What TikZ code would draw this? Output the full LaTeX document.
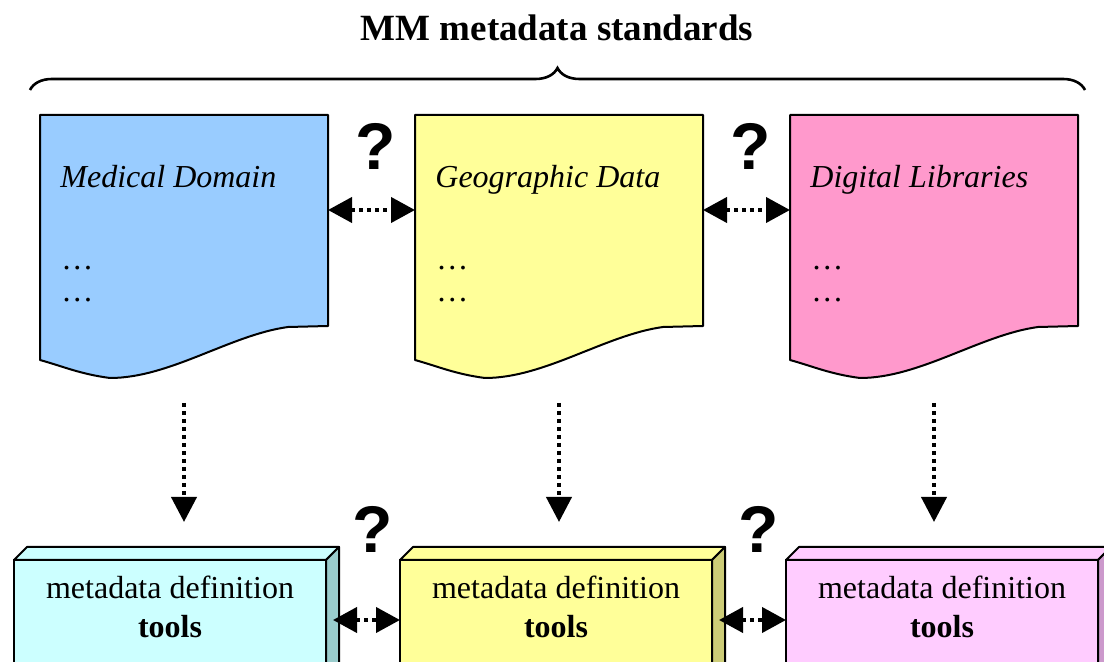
\documentclass[tikz,border=0pt]{standalone}
\usepackage{fontspec}
\setmainfont{Liberation Serif}
\newfontfamily\qfont{Liberation Sans}
\usepackage{tikz}
\usetikzlibrary{positioning, calc, arrows.meta, decorations.pathreplacing}

\definecolor{medblue}{HTML}{99CCFF}
\definecolor{geoyellow}{HTML}{FFFF99}
\definecolor{libpink}{HTML}{FF99CC}
\definecolor{toolcyan}{HTML}{CCFFFF}
\definecolor{cyanside}{HTML}{99CCCC}
\definecolor{yellowside}{HTML}{CCCC77}
\definecolor{toolpink}{HTML}{FFCCFF}
\definecolor{pinkside}{HTML}{CC99CC}

\tikzset{
  heading/.style={font=\bfseries\fontsize{18.5}{22}\selectfont, inner sep=0},
  bracket/.style={decorate, decoration={brace, amplitude=11pt}, line width=1.3pt},
  doc/.style={minimum width=144pt, minimum height=131.5pt, inner sep=0, outer sep=0},
  docline/.style={line width=1pt, line join=round},
  docname/.style={font=\fontsize{16}{19}\selectfont\itshape, anchor=base west, inner sep=0},
  docdots/.style={font=\fontsize{16}{19}\selectfont, anchor=base west, inner sep=0},
  toolface/.style={draw, line width=1pt, minimum width=156pt, minimum height=70pt, inner sep=0, outer sep=0},
  tooltext/.style={font=\fontsize{16}{19.5}\selectfont, align=center, inner sep=0, anchor=north},
  qmark/.style={font=\qfont\bfseries\fontsize{33}{33}\selectfont, inner sep=0},
  link/.style={line width=2pt, dash pattern=on 2pt off 2pt,
    {Triangle[length=12pt,width=12.5pt]}-{Triangle[length=12pt,width=12.5pt]}},
  flow/.style={line width=2pt, dash pattern=on 2pt off 2pt,
    -{Triangle[length=12.5pt,width=12.5pt]}, shorten <=12.5pt, shorten >=19pt}
}

% paper sheet with a wavy lower edge: node, fill colour, heading
\newcommand{\metadoc}[3]{%
  \filldraw[docline, fill=#2] (#1.north west) -- (#1.north east) -- ++(0,211) -- ++(-40,1)
    .. controls +(-58,8) and +(60,0) .. ++(-178,51)
    .. controls +(-30,-4) and +(25,7) .. ++(-70,-18) -- cycle;
  \node[docname] (#1-name) at ([xshift=10pt,yshift=-36.5pt]#1.north west) {#3};
  \node[docdots] (#1-dots) at ([xshift=10.5pt,yshift=-77.5pt]#1.north west) {\dots};
  \node[docdots] (#1-more) at ([xshift=10.5pt,yshift=-93.5pt]#1.north west) {\dots};
}

% top and side of a tool block: node, top colour, side colour
\newcommand{\toolbox}[3]{%
  \filldraw[docline, fill=#2] (#1.north west) -- ++(13,-13) -- ++(312,0) -- (#1.north east) -- cycle;
  \filldraw[docline, fill=#3] (#1.north east) -- ++(13,-13) -- ++(0,160) -- (#1.south east) -- cycle;
  \node[tooltext] (#1-name) at ([yshift=-8pt]#1.north) {metadata definition\\\textbf{tools}};
}

\begin{document}
\begin{tikzpicture}[x=0.5pt, y=-0.5pt]
\useasboundingbox (0,0) rectangle (1104,662);
\clip (0,0) rectangle (1104,662);

% heading with its brace
\node[heading] (title) at (557,28) {MM metadata standards};
\coordinate (braceL) at (30,90);
\coordinate (braceR) at (1085,90);
\draw[bracket] (braceL) -- (braceR);

% the three standards
\node[doc] (med) at (184,246.5) {};
\node[doc, right=43.5pt of med] (geo) {};
\node[doc, right=43.5pt of geo] (lib) {};
\metadoc{med}{medblue}{Medical Domain}
\metadoc{geo}{geoyellow}{Geographic Data}
\metadoc{lib}{libpink}{Digital Libraries}

% definition tools
\node[toolface, fill=toolcyan] (medtool) at (170,630) {};
\node[toolface, fill=geoyellow, right=37pt of medtool] (geotool) {};
\node[toolface, fill=toolpink, right=37pt of geotool] (libtool) {};
\toolbox{medtool}{toolcyan}{cyanside}
\toolbox{geotool}{geoyellow}{yellowside}
\toolbox{libtool}{toolpink}{pinkside}

% mappings between standards
\draw[link] ([yshift=18.25pt]med.east) -- node[qmark, midway, above=19pt, xshift=2pt] (q1) {?} ([yshift=18.25pt]geo.west);
\draw[link] ([yshift=18.25pt]geo.east) -- node[qmark, midway, above=19pt, xshift=2pt] (q2) {?} ([yshift=18.25pt]lib.west);

% standards to tools
\draw[flow] (med.south) -- (med.south |- medtool.north);
\draw[flow] (geo.south) -- (geo.south |- geotool.north);
\draw[flow] (lib.south) -- (lib.south |- libtool.north);

% mappings between tools
\draw[link] ([xshift=3.5pt,yshift=5pt]medtool.east) -- node[qmark, midway, above=32.5pt, xshift=3pt] (q3) {?} ([yshift=5pt]geotool.west);
\draw[link] ([xshift=3.5pt,yshift=5pt]geotool.east) -- node[qmark, midway, above=32.5pt, xshift=3pt] (q4) {?} ([yshift=5pt]libtool.west);
\end{tikzpicture}
\end{document}
